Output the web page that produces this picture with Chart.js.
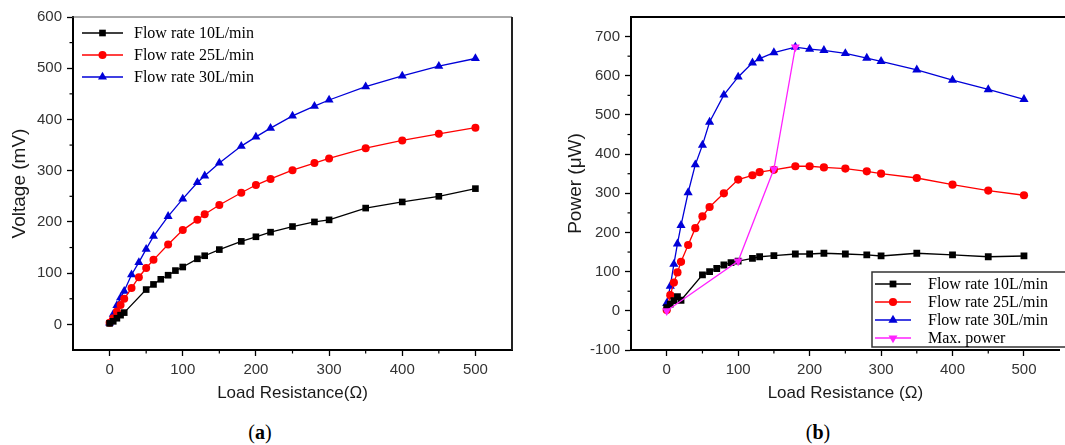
<!DOCTYPE html>
<html>
<head>
<meta charset="utf-8">
<script src="https://cdn.jsdelivr.net/npm/chart.js@4.4.0/dist/chart.umd.min.js"></script>
<style>
body{margin:0;background:#fff;width:1065px;height:445px;overflow:hidden;position:relative}
#ca{position:absolute;left:0;top:0}
#cb{position:absolute;left:530px;top:0}
.cap{position:absolute;top:420px;width:60px;text-align:center;font:20px "Liberation Serif",serif;line-height:24px;color:#000}
</style>
</head>
<body>
<canvas id="ca" width="530" height="410"></canvas>
<canvas id="cb" width="535" height="410"></canvas>
<div class="cap" style="left:230px">(<b>a</b>)</div>
<div class="cap" style="left:788px">(<b>b</b>)</div>
<script>
// (a) voltage vs load resistance
var res10 = [0,5,10,15,20,50,60,70,80,90,100,120,130,150,180,200,220,250,280,300,350,400,450,500];
var res25 = [0,5,10,15,20,30,40,50,60,80,100,120,130,150,180,200,220,250,280,300,350,400,450,500];
var res30 = res25;
var volt10 = [2,6,12,18,23,68,78,88,96,105,112,128,134,146,162,171,180,191,200,204,227,239,250,265];
var volt25 = [3,12,25,38,50,71,92,110,126,156,184,204,215,233,257,272,284,301,315,324,344,359,372,384];
var volt30 = [3,20,37,52,65,97,121,147,172,211,245,277,290,315,348,366,383,407,426,438,464,485,504,519];

// (b) power vs load resistance
var pow10 = [8,17,26,36,27,92,100,108,117,123,127,134,138,141,145,145,147,145,143,140,147,143,138,140];
var pow25 = [2,40,72,98,125,168,211,241,265,300,335,346,354,360,369,369,366,363,356,350,339,322,307,295];
var pow30 = [19,63,119,171,218,302,373,423,482,551,597,633,644,659,673,668,665,657,645,637,615,589,565,540];
var resMax = [0,100,150,180];
var powMax = [0,127,362,673];

var labels = ["Flow rate 10L/min", "Flow rate 25L/min", "Flow rate 30L/min", "Max. power"];
var xTicks = [0,100,200,300,400,500];
var yTicksA = [0,100,200,300,400,500,600];
var yTicksB = [-100,0,100,200,300,400,500,600,700];

function pts(xs, ys){
    var out = [];
    for(var i = 0; i < xs.length; i++){
        out.push({x: xs[i], y: ys[i]});
    }
    return out;
}

function drawMarker(ctx, style, x, y, r, rot, color){
    ctx.save();
    ctx.fillStyle = color;
    ctx.beginPath();
    if(style === 'rect'){
        var s = r * Math.SQRT1_2;
        ctx.rect(x - s, y - s, 2 * s, 2 * s);
    } else if(style === 'circle'){
        ctx.arc(x, y, r, 0, Math.PI * 2);
    } else {
        var a = (rot || 0) * Math.PI / 180;
        ctx.moveTo(x + Math.sin(a) * r, y - Math.cos(a) * r);
        a += Math.PI * 2 / 3;
        ctx.lineTo(x + Math.sin(a) * r, y - Math.cos(a) * r);
        a += Math.PI * 2 / 3;
        ctx.lineTo(x + Math.sin(a) * r, y - Math.cos(a) * r);
        ctx.closePath();
    }
    ctx.fill();
    ctx.restore();
}

// box lines on top/right and the small minor ticks
var framePlugin = {
    id: 'frame',
    afterDraw: function(chart, args, o){
        var ctx = chart.ctx, a = chart.chartArea;
        ctx.save();
        ctx.strokeStyle = o.topColor;
        ctx.lineWidth = o.topWidth;
        ctx.beginPath();
        ctx.moveTo(a.left - 1, a.top);
        ctx.lineTo(o.toEdge ? chart.width : a.right, a.top);
        ctx.stroke();
        if(o.rightWidth){
            ctx.strokeStyle = o.rightColor;
            ctx.lineWidth = o.rightWidth;
            ctx.beginPath();
            ctx.moveTo(a.right, a.top);
            ctx.lineTo(a.right, a.bottom);
            ctx.stroke();
        }
        ctx.strokeStyle = '#000';
        ctx.lineWidth = 1.2;
        ['x', 'y'].forEach(function(id){
            var s = chart.scales[id];
            var t = s.ticks.map(function(k){ return k.value; });
            var step = t[1] - t[0];
            for(var v = t[0] - step / 2; v < s.max; v += step){
                if(v <= s.min) continue;
                var p = s.getPixelForValue(v);
                ctx.beginPath();
                if(id === 'x'){
                    ctx.moveTo(p, a.bottom);
                    ctx.lineTo(p, a.bottom + 3.5);
                } else {
                    ctx.moveTo(a.left, p);
                    ctx.lineTo(a.left - 3.5, p);
                }
                ctx.stroke();
            }
        });
        ctx.restore();
    }
};

var legendPlugin = {
    id: 'legendBox',
    afterDraw: function(chart, args, o){
        var ctx = chart.ctx;
        ctx.save();
        if(o.box){
            ctx.fillStyle = '#fff';
            ctx.fillRect(o.box[0], o.box[1], o.box[2], o.box[3]);
            ctx.strokeStyle = '#333';
            ctx.lineWidth = 1.5;
            ctx.strokeRect(o.box[0], o.box[1], o.box[2], o.box[3]);
        }
        ctx.font = '16px "Liberation Serif", serif';
        ctx.textBaseline = 'middle';
        chart.data.datasets.forEach(function(ds, i){
            var y = o.y + i * o.rowH;
            ctx.strokeStyle = ds.borderColor;
            ctx.lineWidth = 1.5;
            ctx.beginPath();
            ctx.moveTo(o.x, y);
            ctx.lineTo(o.x + o.lineW, y);
            ctx.stroke();
            drawMarker(ctx, ds.pointStyle, o.x + o.lineW / 2, y, ds.pointRadius, ds.pointRotation, ds.borderColor);
            ctx.fillStyle = '#000';
            ctx.fillText(ds.label, o.textX, y + 1);
        });
        ctx.restore();
    }
};

function series(label, data, color, style, r, rot, order){
    return {
        label: label,
        data: data,
        order: order || 0,
        borderColor: color,
        backgroundColor: color,
        borderWidth: 1.3,
        pointStyle: style,
        pointRadius: r,
        pointRotation: rot || 0,
        pointBorderWidth: 0,
        pointHoverRadius: r,
        tension: 0,
        fill: false
    };
}

function axisOpts(min, max, ticks, title, size, titlePad, fit){
    return {
        type: 'linear',
        min: min,
        max: max,
        afterBuildTicks: function(s){ s.ticks = ticks.map(function(v){ return {value: v}; }); },
        afterFit: fit,
        border: {color: '#000', width: 2},
        grid: {display: true, drawOnChartArea: false, drawTicks: true, tickLength: 6, tickColor: '#000', tickWidth: 1.3},
        ticks: {
            color: '#333',
            padding: 5,
            maxRotation: 0,
            font: {family: '"Liberation Sans", Arial, sans-serif', size: 15},
            callback: function(v){ return String(v); }
        },
        title: {
            display: true,
            text: title,
            color: '#1a1a1a',
            padding: titlePad,
            font: {family: '"Liberation Sans", Arial, sans-serif', size: size}
        }
    };
}

new Chart(document.getElementById('ca'), {
    type: 'line',
    data: {
        datasets: [
            series(labels[0], pts(res10, volt10), '#000000', 'rect', 4.7),
            series(labels[1], pts(res25, volt25), '#ff0000', 'circle', 4),
            series(labels[2], pts(res30, volt30), '#0000d8', 'triangle', 5.2)
        ]
    },
    options: {
        responsive: false,
        animation: false,
        layout: {padding: {top: 17, right: 18, left: 0, bottom: 0}},
        plugins: {
            legend: {display: false},
            tooltip: {enabled: false},
            frame: {topColor: '#555', topWidth: 1, rightColor: '#222', rightWidth: 2},
            legendBox: {x: 82, y: 33, rowH: 22, lineW: 41, textX: 134}
        },
        scales: {
            x: axisOpts(-50, 550, xTicks, 'Load Resistance(Ω)', 17, {top: 0, bottom: 6}, function(s){ s.height = 60; }),
            y: axisOpts(-50, 600, yTicksA, 'Voltage (mV)', 19, {top: 8, bottom: 0}, function(s){ s.width = 73; })
        }
    },
    plugins: [framePlugin, legendPlugin]
});

new Chart(document.getElementById('cb'), {
    type: 'line',
    data: {
        datasets: [
            series(labels[0], pts(res10, pow10), '#000000', 'rect', 4.8),
            series(labels[1], pts(res25, pow25), '#ff0000', 'circle', 4.1),
            series(labels[2], pts(res30, pow30), '#0000d8', 'triangle', 5.3),
            series(labels[3], pts(resMax, powMax), '#ff22ff', 'triangle', 5.2, 180, -1)
        ]
    },
    options: {
        responsive: false,
        animation: false,
        layout: {padding: {top: 17, right: 5, left: 0, bottom: 0}},
        plugins: {
            legend: {display: false},
            tooltip: {enabled: false},
            frame: {topColor: '#000', topWidth: 2, toEdge: true},
            legendBox: {x: 345, y: 284, rowH: 18, lineW: 36, textX: 398, box: [342, 272, 210, 75]}
        },
        scales: {
            x: axisOpts(-50, 550, xTicks, 'Load Resistance (Ω)', 17, {top: 0, bottom: 6}, function(s){ s.height = 60; }),
            y: axisOpts(-100, 750, yTicksB, 'Power (μW)', 19, {top: 34, bottom: 0}, function(s){ s.width = 101; })
        }
    },
    plugins: [framePlugin, legendPlugin]
});
</script>
</body>
</html>
